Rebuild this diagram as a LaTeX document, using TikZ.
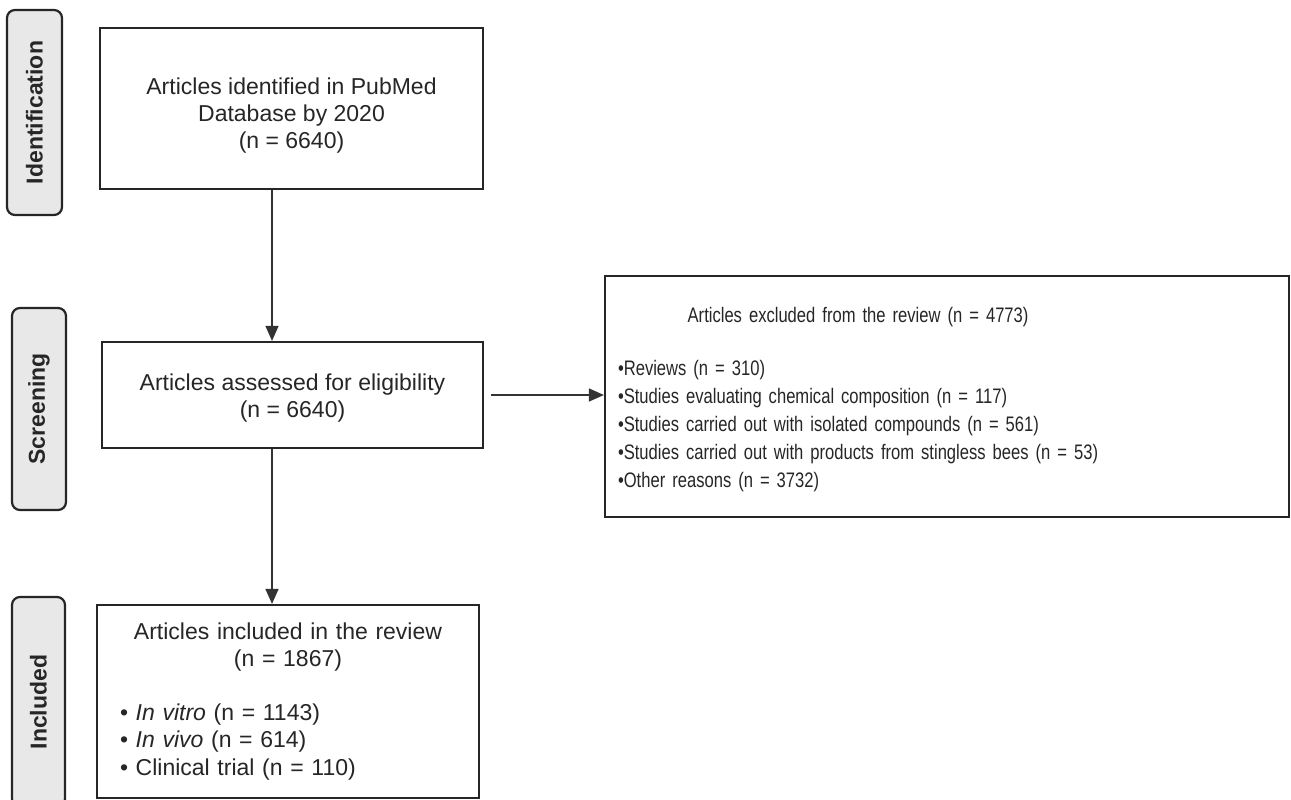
\documentclass[tikz,border=0pt]{standalone}
\usepackage{fontspec}
\setmainfont{Liberation Sans}
\newfontfamily\narrowfont[FakeStretch=0.79]{Liberation Sans}
\usetikzlibrary{arrows.meta}

\tikzset{
    box/.style={draw=black!85, line width=2.2pt, fill=white, text=black!85,
        font=\fontsize{23}{27}\selectfont},
    stage/.style={draw=black!85, line width=2.2pt, fill=gray!18, rounded corners=8pt,
        rotate=90, text=black!85, font=\bfseries\fontsize{23}{27}\selectfont},
    arrowline/.style={draw=black!80, line width=1.2pt, -{Triangle[length=15pt,width=13pt]}},
}

\begin{document}
\begin{tikzpicture}[x=1pt, y=-1pt]
    % Canvas
    \path[use as bounding box] (0,0) rectangle (1291,800);

    % Stage labels
    \node[stage, minimum width=205pt, minimum height=55pt] (identification) at (34.5,112.5) {Identification};
    \node[stage, minimum width=202pt, minimum height=54pt] (screening) at (39,409) {Screening};
    \node[stage, minimum width=210pt, minimum height=53pt] (includedstage) at (38.5,702) {Included};

    % Flow boxes
    \node[box, minimum width=383pt, minimum height=161pt, align=center] (identified) at (291.5,108.5)
        {\rule{0pt}{31pt}Articles identified in PubMed\\Database by 2020\\(n = 6640)};
    \node[box, minimum width=381pt, minimum height=106pt, align=center] (assessed) at (292.5,395)
        {\rule{0pt}{22pt}Articles assessed for eligibility\\(n = 6640)};
    \node[box, minimum width=382pt, minimum height=193pt, text width=336pt,
        font=\fontsize{23}{27.5}\selectfont] (included) at (288,701.5)
        {\centering Articles included in the review\\(n = 1867)\par\vspace{26pt}
         \raggedright
         • \textit{In vitro} (n = 1143)\\
         • \textit{In vivo} (n = 614)\\
         • Clinical trial (n = 110)};

    % Excluded articles
    \node[box, minimum width=684pt, minimum height=241pt, text width=658pt, align=left,
        font=\narrowfont\fontsize{21}{28}\selectfont] (excluded) at (947,396.5)
        {\begin{tabular}{@{}l@{}}
            \multicolumn{1}{@{}c@{}}{\rule{0pt}{26pt}Articles excluded from the review (n = 4773)}\\[25pt]
            •Reviews (n = 310)\\
            •Studies evaluating chemical composition (n = 117)\\
            •Studies carried out with isolated compounds (n = 561)\\
            •Studies carried out with products from stingless bees (n = 53)\\
            •Other reasons (n = 3732)
        \end{tabular}};

    % Connectors
    \coordinate (spine) at (272,0);
    \draw[arrowline] (identified.south -| spine) -- (assessed.north -| spine);
    \draw[arrowline] (assessed.south -| spine) -- (included.north -| spine);
    \draw[arrowline, shorten <=7pt] (assessed.east) -- (excluded.west |- assessed.east);
\end{tikzpicture}
\end{document}
